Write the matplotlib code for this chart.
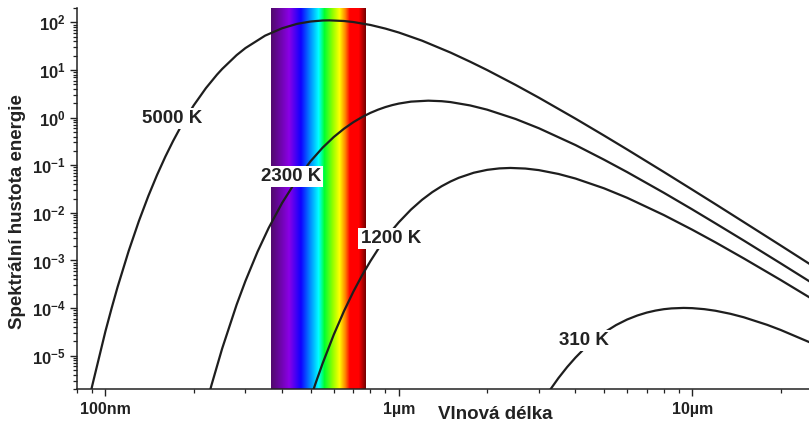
import numpy as np
import matplotlib
matplotlib.use('Agg')
import matplotlib.pyplot as plt
from matplotlib.colors import LinearSegmentedColormap
from matplotlib.ticker import FixedLocator, FixedFormatter, LogLocator, NullFormatter

plt.rcParams['font.family'] = ['Liberation Sans', 'DejaVu Sans']
plt.rcParams['font.weight'] = 'bold'
plt.rcParams['mathtext.fontset'] = 'custom'
plt.rcParams['mathtext.bf'] = 'Liberation Sans:bold'
plt.rcParams['mathtext.rm'] = 'Liberation Sans:bold'

# ---- data (wavelength in micrometres, spectral energy density) ----
wl_5000 = [0.085, 0.09, 0.1, 0.105, 0.11, 0.12, 0.13, 0.14, 0.15, 0.16, 0.17, 0.18, 0.19, 0.2,
           0.22, 0.24, 0.25, 0.28, 0.3, 0.35, 0.4, 0.45, 0.5, 0.55, 0.58, 0.65, 0.7, 0.8, 0.9,
           1.0, 1.2, 1.5, 1.75, 2, 2.5, 3, 4, 5, 6, 8, 10, 12, 15, 20, 25]
u_5000 = [4.6e-7, 2.25e-6, 3.26e-5, 1.0e-4, 2.77e-4, 1.58e-3, 6.7e-3, 2.25e-2, 6.28e-2, 0.151,
          0.321, 0.618, 1.094, 1.81, 4.15, 7.98, 10.5, 20.5, 28.8, 52.5, 75.1, 92.9, 104.1,
          109.3, 110.0, 106.7, 101.5, 88.1, 73.9, 61.1, 41.2, 23.2, 14.9, 9.95, 4.85, 2.62,
          0.950, 0.421, 0.214, 0.0722, 0.0307, 0.0152, 6.37e-3, 2.07e-3, 8.6e-4]

wl_2300 = [0.22, 0.23, 0.25, 0.28, 0.3, 0.33, 0.36, 0.4, 0.45, 0.5, 0.55, 0.6, 0.65, 0.7, 0.75,
           0.8, 0.85, 0.9, 0.95, 1.0, 1.1, 1.26, 1.4, 1.5, 1.75, 2, 2.5, 3, 4, 5, 6, 8, 10, 12,
           15, 20, 25]
u_2300 = [8.9e-7, 2.45e-6, 1.42e-5, 1.18e-4, 3.70e-4, 1.53e-3, 4.81e-3, 1.61e-2, 5.09e-2, 0.121,
          0.234, 0.391, 0.583, 0.801, 1.029, 1.256, 1.469, 1.663, 1.830, 1.969, 2.163, 2.266,
          2.208, 2.116, 1.799, 1.466, 0.935, 0.598, 0.265, 0.131, 0.0717, 0.0264, 0.0118,
          6.01e-3, 2.61e-3, 8.72e-4, 3.69e-4]

wl_1200 = [0.5, 0.52, 0.55, 0.6, 0.65, 0.7, 0.75, 0.8, 0.85, 0.9, 0.95, 1.0, 1.1, 1.2, 1.3, 1.4,
           1.5, 1.6, 1.8, 2.0, 2.2, 2.4, 2.7, 3, 3.5, 4, 5, 6, 8, 10, 12, 15, 20, 25]
u_1200 = [1.26e-6, 2.61e-6, 6.93e-6, 2.76e-5, 8.60e-5, 2.22e-4, 4.92e-4, 9.68e-4, 1.73e-3,
          2.84e-3, 4.37e-3, 6.35e-3, 1.17e-2, 1.88e-2, 2.72e-2, 3.63e-2, 4.55e-2, 5.44e-2,
          6.95e-2, 7.99e-2, 8.57e-2, 8.76e-2, 8.51e-2, 7.89e-2, 6.55e-2, 5.25e-2, 3.28e-2,
          2.07e-2, 8.99e-3, 4.42e-3, 2.40e-3, 1.10e-3, 3.90e-4, 1.70e-4]

wl_310 = [3.2, 3.3, 3.5, 3.75, 4, 4.25, 4.5, 5, 5.5, 6, 6.5, 7, 7.5, 8, 8.5, 9.35, 10, 11, 12,
          13.5, 15, 18, 20, 25]
u_310 = [1.53e-6, 2.04e-6, 3.40e-6, 5.82e-6, 9.13e-6, 1.335e-5, 1.84e-5, 3.05e-5, 4.40e-5,
         5.76e-5, 6.99e-5, 8.05e-5, 8.87e-5, 9.48e-5, 9.85e-5, 1.008e-4, 9.97e-5, 9.49e-5,
         8.79e-5, 7.58e-5, 6.40e-5, 4.45e-5, 3.48e-5, 1.94e-5]

curve_labels = ['5000 K', '2300 K', '1200 K', '310 K']
label_pos = [(0.1687, 0.948), (0.4289, 0.0573), (0.9392, 2.86e-3), (4.28, 2.11e-5)]

visible_band = (0.367, 0.778)
x_major = [0.1, 1, 10]
x_major_labels = ['100nm', '1µm', '10µm']
y_major = [1e-5, 1e-4, 1e-3, 1e-2, 1e-1, 1e0, 1e1, 1e2]
y_major_labels = [r'$\mathbf{10^{-5}}$', r'$\mathbf{10^{-4}}$', r'$\mathbf{10^{-3}}$',
                  r'$\mathbf{10^{-2}}$', r'$\mathbf{10^{-1}}$', r'$\mathbf{10^{0}}$',
                  r'$\mathbf{10^{1}}$', r'$\mathbf{10^{2}}$']
xlim = (0.08, 25)
ylim = (2e-6, 2e2)

# ---- figure ----
W, H = 809, 423
fig = plt.figure(figsize=(W / 100, H / 100), dpi=100)
ax = fig.add_axes([77 / W, 34 / H, 732 / W, 381 / H])
ax.set_xscale('log')
ax.set_yscale('log')
ax.set_xlim(*xlim)
ax.set_ylim(*ylim)

spec = LinearSegmentedColormap.from_list('spec', [
    (0.00, '#520a70'), (0.13, '#8a00e6'), (0.23, '#1000ff'), (0.32, '#0090ff'),
    (0.40, '#00ffff'), (0.46, '#00ff30'), (0.55, '#90ff00'), (0.63, '#ffff00'),
    (0.70, '#ff8800'), (0.76, '#ff0000'), (0.88, '#ff0000'), (1.00, '#5a0000')])
grad = np.linspace(0, 1, 256).reshape(1, -1)
ax.imshow(grad, cmap=spec, aspect='auto', extent=[visible_band[0], visible_band[1], ylim[0], ylim[1]],
          zorder=1, interpolation='bilinear')
ax.set_xlim(*xlim)
ax.set_ylim(*ylim)

lc = '#1e1e1e'
for wl, u in [(wl_5000, u_5000), (wl_2300, u_2300), (wl_1200, u_1200), (wl_310, u_310)]:
    ax.plot(wl, u, color=lc, lw=1.6, zorder=3, solid_joinstyle='round')

for txt, (xv, yv) in zip(curve_labels, label_pos):
    ax.text(xv, yv, txt, ha='center', va='center', fontsize=13.5, fontweight='bold', color='#222222',
            zorder=4, bbox=dict(boxstyle='square,pad=0.12', fc='white', ec='none'))

for s in ['top', 'right']:
    ax.spines[s].set_visible(False)
for s in ['left', 'bottom']:
    ax.spines[s].set_linewidth(1.1)
    ax.spines[s].set_color('#222222')

ax.xaxis.set_major_locator(FixedLocator(x_major))
ax.xaxis.set_major_formatter(FixedFormatter(x_major_labels))
ax.xaxis.set_minor_locator(LogLocator(base=10, subs=np.arange(2, 10)))
ax.xaxis.set_minor_formatter(NullFormatter())
ax.yaxis.set_major_locator(FixedLocator(y_major))
ax.yaxis.set_major_formatter(FixedFormatter(y_major_labels))
ax.yaxis.set_minor_locator(LogLocator(base=10, subs=np.arange(2, 10)))
ax.yaxis.set_minor_formatter(NullFormatter())

ax.tick_params(axis='both', which='major', direction='out', length=5, width=1.0, color='#222222',
               labelcolor='#222222')
ax.tick_params(axis='both', which='minor', direction='out', length=3, width=0.9, color='#222222')
ax.tick_params(axis='x', which='major', labelsize=11.5, pad=4)
ax.tick_params(axis='y', which='major', labelsize=12, pad=3)
for lab in ax.get_xticklabels():
    lab.set_fontweight('bold')

fig.text(495 / W, 1 - 414 / H, 'Vlnová délka', ha='center', va='center', fontsize=13.5,
         fontweight='bold', color='#222222')
fig.text(18 / W, 1 - 212 / H, 'Spektrální hustota energie', ha='center', va='center',
         rotation=90, fontsize=13.5, fontweight='bold', color='#222222')

fig.savefig('out.png', dpi=100)
